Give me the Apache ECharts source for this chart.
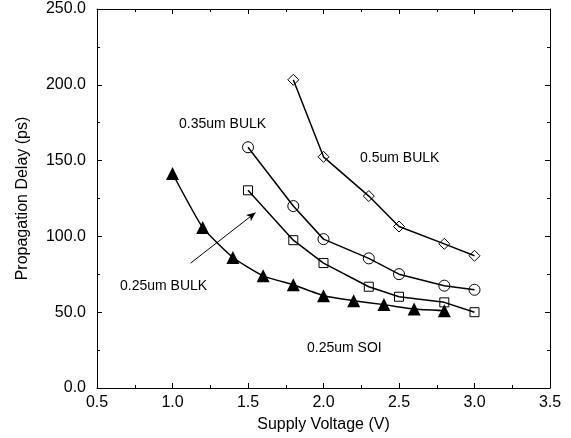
<!DOCTYPE html>
<html>
<head>
<meta charset="utf-8">
<style>
  html, body { margin: 0; padding: 0; background: #fff; }
  #chart { width: 571px; height: 438px; }
</style>
<script src="https://cdn.jsdelivr.net/npm/echarts@6/dist/echarts.min.js"></script>
</head>
<body>
<div id="chart"></div>
<script>
// Supply voltage (V) / propagation delay (ps) per process
const bulk05V = [1.8, 2.0, 2.3, 2.5, 2.8, 3.0];
const bulk05D = [203.3, 152.5, 126.6, 106.5, 95.1, 87.2];

const bulk035V = [1.5, 1.8, 2.0, 2.3, 2.5, 2.8, 3.0];
const bulk035D = [158.8, 120.0, 98.2, 85.5, 75.1, 67.5, 64.8];

const bulk025V = [1.5, 1.8, 2.0, 2.3, 2.5, 2.8, 3.0];
const bulk025D = [130.4, 97.5, 82.4, 66.8, 60.2, 56.5, 50.0];

const soi025V = [1.0, 1.2, 1.4, 1.6, 1.8, 2.0, 2.2, 2.4, 2.6, 2.8];
const soi025D = [141.5, 105.8, 86.1, 74.0, 68.1, 60.9, 57.6, 55.0, 52.1, 51.0];

// Arrow pointing from the 0.25um BULK label to its curve
const arrowFrom = [1.12, 82.4];
const arrowTo = [1.55, 115.7];

const FONT = 'Liberation Sans, Arial, sans-serif';

const pairs = (xs, ys) => xs.map((x, i) => [x, ys[i]]);

const chart = echarts.init(document.getElementById('chart'), null, { renderer: 'canvas' });

const axisLineStyle = { show: true, onZero: false, lineStyle: { color: '#000', width: 1 } };
const tickStyle = { show: true, inside: true, length: 5, lineStyle: { color: '#000', width: 1 } };
const minorStyle = { show: true, splitNumber: 2, length: 3, lineStyle: { color: '#000', width: 1 } };

function lineSeries(name, data, symbol, size, filled) {
  return {
    name, type: 'line', data, symbol, symbolSize: size,
    showAllSymbol: true,
    lineStyle: { color: '#000', width: 1.5 },
    itemStyle: {
      color: filled ? '#000' : 'rgba(0,0,0,0)',
      borderColor: '#000',
      borderWidth: filled ? 0 : 1
    },
    emphasis: { disabled: true },
    animation: false,
    z: 3
  };
}

chart.setOption({
  backgroundColor: '#fff',
  animation: false,
  grid: { left: 97, right: 21, top: 9, bottom: 49 },
  xAxis: [
    {
      type: 'value', min: 0.5, max: 3.5, interval: 0.5, position: 'bottom',
      name: 'Supply Voltage (V)', nameLocation: 'middle', nameGap: 29,
      nameTextStyle: { fontFamily: FONT, fontSize: 16, color: '#000' },
      axisLine: axisLineStyle, axisTick: tickStyle, minorTick: minorStyle,
      splitLine: { show: false },
      axisLabel: { fontFamily: FONT, fontSize: 16, color: '#000', margin: 7,
        formatter: v => v.toFixed(1) }
    },
    {
      type: 'value', min: 0.5, max: 3.5, interval: 0.5, position: 'top',
      axisLine: axisLineStyle, axisTick: tickStyle, minorTick: minorStyle,
      splitLine: { show: false }, axisLabel: { show: false }
    }
  ],
  yAxis: [
    {
      type: 'value', min: 0, max: 250, interval: 50, position: 'left',
      name: 'Propagation Delay (ps)', nameLocation: 'middle', nameGap: 66,
      nameTextStyle: { fontFamily: FONT, fontSize: 16, color: '#000' },
      axisLine: axisLineStyle, axisTick: tickStyle, minorTick: minorStyle,
      splitLine: { show: false },
      axisLabel: { fontFamily: FONT, fontSize: 16, color: '#000', margin: 11,
        formatter: v => v.toFixed(1) }
    },
    {
      type: 'value', min: 0, max: 250, interval: 50, position: 'right',
      axisLine: axisLineStyle, axisTick: tickStyle, minorTick: minorStyle,
      splitLine: { show: false }, axisLabel: { show: false }
    }
  ],
  series: [
    lineSeries('0.5um BULK', pairs(bulk05V, bulk05D), 'diamond', 11, false),
    lineSeries('0.35um BULK', pairs(bulk035V, bulk035D), 'circle', 11, false),
    lineSeries('0.25um BULK', pairs(bulk025V, bulk025D), 'rect', 9, false),
    Object.assign(lineSeries('0.25um SOI', pairs(soi025V, soi025D), 'triangle', 13, true), {
      smooth: 0.15,
      markLine: {
        silent: true,
        symbol: ['none', 'arrow'],
        symbolSize: [6, 9],
        label: { show: false },
        lineStyle: { color: '#000', width: 1, type: 'solid' },
        data: [[{ coord: arrowFrom }, { coord: arrowTo }]]
      }
    })
  ],
  graphic: [
    { type: 'text', left: 179, top: 117, style: { text: '0.35um BULK', font: '14px ' + FONT, fill: '#000' } },
    { type: 'text', left: 360, top: 151, style: { text: '0.5um BULK', font: '14px ' + FONT, fill: '#000' } },
    { type: 'text', left: 120, top: 279, style: { text: '0.25um BULK', font: '14px ' + FONT, fill: '#000' } },
    { type: 'text', left: 307, top: 341, style: { text: '0.25um SOI', font: '14px ' + FONT, fill: '#000' } }
  ]
});
</script>
</body>
</html>
